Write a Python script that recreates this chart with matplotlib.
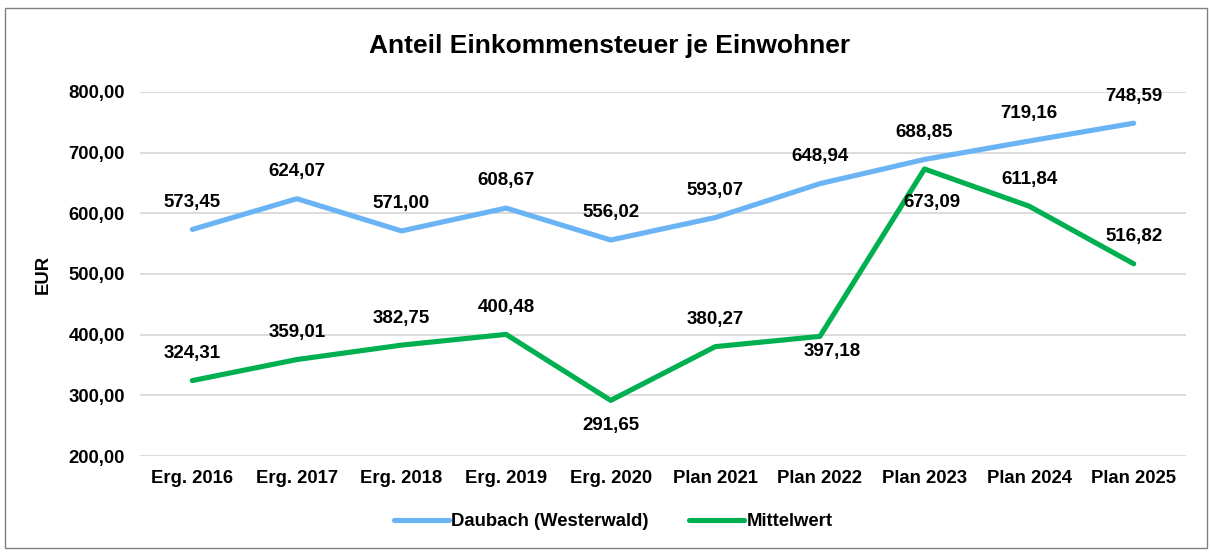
import matplotlib.pyplot as plt
from matplotlib.patches import Rectangle

plt.rcParams['font.family'] = ['Liberation Sans', 'DejaVu Sans']

categories = ["Erg. 2016", "Erg. 2017", "Erg. 2018", "Erg. 2019", "Erg. 2020",
              "Plan 2021", "Plan 2022", "Plan 2023", "Plan 2024", "Plan 2025"]
daubach = [573.45, 624.07, 571.00, 608.67, 556.02, 593.07, 648.94, 688.85, 719.16, 748.59]
mittelwert = [324.31, 359.01, 382.75, 400.48, 291.65, 380.27, 397.18, 673.09, 611.84, 516.82]
yticks = [200, 300, 400, 500, 600, 700, 800]

# label offsets in points (dx, dy)
daubach_off = [(0, 19.5)] * 10
mittel_off = [(0, 19.5), (0, 19.5), (0, 19.5), (0, 19.5), (0, -18),
              (0, 19.5), (9, -11), (5, -24), (0, 19.5), (0, 19.5)]

blue = "#6AB4F5"
green = "#00B050"

def fmt(v):
    return f"{v:.2f}".replace(".", ",")

fig = plt.figure(figsize=(12.11, 5.53), dpi=100)
ax = fig.add_axes([140 / 1211, 1 - 456 / 553, 1046 / 1211, 364 / 553])

x = list(range(len(categories)))
ax.plot(x, daubach, color=blue, lw=3.7, solid_capstyle="round", label="Daubach (Westerwald)", clip_on=False, zorder=3)
ax.plot(x, mittelwert, color=green, lw=3.7, solid_capstyle="round", label="Mittelwert", clip_on=False, zorder=3)

for i, v in enumerate(daubach):
    ax.annotate(fmt(v), (i, v), xytext=daubach_off[i], textcoords="offset points",
                ha="center", va="center", fontsize=13.5, fontweight="bold", zorder=4)
for i, v in enumerate(mittelwert):
    ax.annotate(fmt(v), (i, v), xytext=mittel_off[i], textcoords="offset points",
                ha="center", va="center", fontsize=13.5, fontweight="bold", zorder=4)

ax.set_xlim(-0.5, len(categories) - 0.5)
ax.set_ylim(200, 800)
ax.set_yticks(yticks)
ax.set_yticklabels([fmt(t) for t in yticks], fontsize=13.3, fontweight="bold")
ax.set_xticks(x)
ax.set_xticklabels(categories, fontsize=13.3, fontweight="bold")
ax.tick_params(length=0)
ax.tick_params(axis="y", pad=11)
ax.tick_params(axis="x", pad=10)
ax.grid(axis="y", color="#D9D9D9", lw=1.3)
ax.set_axisbelow(True)
for s in ax.spines.values():
    s.set_visible(False)

ax.set_ylabel("EUR", fontsize=13.3, fontweight="bold", labelpad=12)
fig.text(610 / 1211, 1 - 46 / 553, "Anteil Einkommensteuer je Einwohner",
         ha="center", va="center", fontsize=19, fontweight="bold")

leg = fig.legend(loc="center", bbox_to_anchor=(613 / 1211, 1 - 522 / 553), ncol=2,
                 frameon=False, prop={"size": 13.3, "weight": "bold"},
                 handlelength=3.0, handletextpad=0.1, columnspacing=2.2)

fig.patches.append(Rectangle((5 / 1211, 1 - 548 / 553), 1202 / 1211, 540 / 553,
                             transform=fig.transFigure, fill=False, edgecolor="#808080", lw=1))

fig.savefig("out.png", dpi=100)
